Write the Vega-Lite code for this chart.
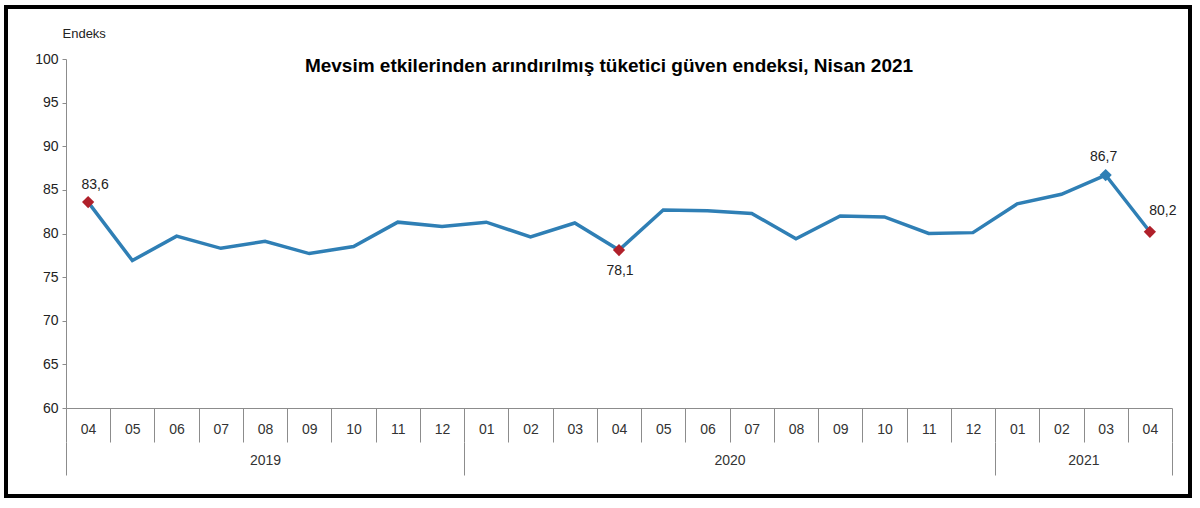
{
  "$schema": "https://vega.github.io/schema/vega-lite/v6.json",
  "width": 1184,
  "height": 489,
  "autosize": {"type": "none"},
  "padding": {"left": 6, "top": 7, "right": 10, "bottom": 12},
  "background": "white",
  "config": {
    "view": {"stroke": "#000000", "strokeWidth": 4},
    "locale": {"number": {"decimal": ",", "thousands": ".", "grouping": [3], "currency": ["", ""]}},
    "font": "Liberation Sans"
  },
  "title": {
    "text": "Mevsim etkilerinden arındırılmış tüketici güven endeksi, Nisan 2021",
    "font": "Liberation Sans",
    "fontSize": 19,
    "fontWeight": "bold",
    "color": "#000000",
    "anchor": "middle",
    "frame": "group",
    "baseline": "alphabetic",
    "offset": -84,
    "dx": 11
  },
  "data": {
    "values": [
      {"donem": "2019-04", "deger": 83.6},
      {"donem": "2019-05", "deger": 76.9},
      {"donem": "2019-06", "deger": 79.7},
      {"donem": "2019-07", "deger": 78.3},
      {"donem": "2019-08", "deger": 79.1},
      {"donem": "2019-09", "deger": 77.7},
      {"donem": "2019-10", "deger": 78.5},
      {"donem": "2019-11", "deger": 81.3},
      {"donem": "2019-12", "deger": 80.8},
      {"donem": "2020-01", "deger": 81.3},
      {"donem": "2020-02", "deger": 79.6},
      {"donem": "2020-03", "deger": 81.2},
      {"donem": "2020-04", "deger": 78.1},
      {"donem": "2020-05", "deger": 82.7},
      {"donem": "2020-06", "deger": 82.6},
      {"donem": "2020-07", "deger": 82.3},
      {"donem": "2020-08", "deger": 79.4},
      {"donem": "2020-09", "deger": 82.0},
      {"donem": "2020-10", "deger": 81.9},
      {"donem": "2020-11", "deger": 80.0},
      {"donem": "2020-12", "deger": 80.1},
      {"donem": "2021-01", "deger": 83.4},
      {"donem": "2021-02", "deger": 84.5},
      {"donem": "2021-03", "deger": 86.7},
      {"donem": "2021-04", "deger": 80.2}
    ]
  },
  "layer": [
    {
      "mark": {"type": "line", "color": "#2f7fb5", "strokeWidth": 3.5},
      "encoding": {
        "x": {
          "field": "donem", "type": "ordinal", "sort": null, "bandPosition": 0.5,
          "scale": {"type": "band", "range": [60, 1166], "paddingInner": 0, "paddingOuter": 0},
          "axis": {
            "orient": "bottom", "offset": -88, "title": null,
            "tickBand": "extent", "tickSize": 34, "tickColor": "#8c8c8c", "tickWidth": 1,
            "domainColor": "#8c8c8c", "domainWidth": 1,
            "labelExpr": "isValid(datum.value) ? substring(datum.value, 5) : ''", "labelAngle": 0, "labelFontSize": 14,
            "labelColor": "#333333", "labelPadding": -20, "labelBaseline": "top",
            "labelOverlap": false, "grid": false
          }
        },
        "y": {
          "field": "deger", "type": "quantitative",
          "scale": {"domain": [60, 100], "range": [401, 52], "nice": false, "zero": false},
          "axis": {
            "offset": -60, "values": [60, 65, 70, 75, 80, 85, 90, 95, 100],
            "tickSize": 4, "tickColor": "#8c8c8c", "domainColor": "#8c8c8c",
            "labelFontSize": 14, "labelColor": "#222222", "labelPadding": 4, "grid": false,
            "title": "Endeks", "titleAngle": 0, "titleAlign": "left", "titleBaseline": "alphabetic",
            "titleX": -4, "titleY": 30, "titleFontWeight": "normal", "titleFontSize": 13, "titleColor": "#222222"
          }
        }
      }
    },
    {
      "transform": [{"filter": "datum.donem == '2019-04' || datum.donem == '2020-04' || datum.donem == '2021-04'"}],
      "mark": {"type": "point", "shape": "diamond", "filled": true, "size": 150, "color": "#b0202a", "opacity": 1},
      "encoding": {
        "x": {
          "field": "donem", "type": "ordinal", "sort": null, "bandPosition": 0.5,
          "axis": {
            "orient": "bottom", "offset": -54, "title": null, "domain": false,
            "tickBand": "extent", "tickSize": 33, "tickColor": "#8c8c8c", "tickWidth": 1,
            "tickOpacity": {"condition": {"test": "!isValid(datum.value) || indexof(['2019-12','2020-12','2021-04'], datum.value) >= 0", "value": 1}, "value": 0},
            "labelExpr": "datum.value == '2019-08' ? '2019' : datum.value == '2020-06' ? '2020' : datum.value == '2021-02' ? '2021' : ''",
            "labelOffset": {"condition": {"test": "datum.value == '2019-08'", "value": 0}, "value": 22},
            "labelAngle": 0, "labelFontSize": 14, "labelColor": "#333333", "labelPadding": -22,
            "labelBaseline": "top", "labelOverlap": false, "grid": false
          }
        },
        "y": {"field": "deger", "type": "quantitative"}
      }
    },
    {
      "transform": [{"filter": "datum.donem == '2021-03'"}],
      "mark": {"type": "point", "shape": "diamond", "filled": true, "size": 150, "color": "#2f7fb5", "opacity": 1},
      "encoding": {
        "x": {"field": "donem", "type": "ordinal", "sort": null, "bandPosition": 0.5, "axis": null},
        "y": {"field": "deger", "type": "quantitative"}
      }
    },
    {
      "transform": [{"filter": "datum.donem == '2019-04'"}],
      "mark": {"type": "text", "fontSize": 14, "color": "#222222", "dx": 7, "dy": -17, "baseline": "middle"},
      "encoding": {
        "x": {"field": "donem", "type": "ordinal", "sort": null, "bandPosition": 0.5, "axis": null},
        "y": {"field": "deger", "type": "quantitative"},
        "text": {"field": "deger", "type": "quantitative", "format": ".1f"}
      }
    },
    {
      "transform": [{"filter": "datum.donem == '2020-04'"}],
      "mark": {"type": "text", "fontSize": 14, "color": "#222222", "dx": 1, "dy": 21, "baseline": "middle"},
      "encoding": {
        "x": {"field": "donem", "type": "ordinal", "sort": null, "bandPosition": 0.5, "axis": null},
        "y": {"field": "deger", "type": "quantitative"},
        "text": {"field": "deger", "type": "quantitative", "format": ".1f"}
      }
    },
    {
      "transform": [{"filter": "datum.donem == '2021-03'"}],
      "mark": {"type": "text", "fontSize": 14, "color": "#222222", "dx": -2, "dy": -18, "baseline": "middle"},
      "encoding": {
        "x": {"field": "donem", "type": "ordinal", "sort": null, "bandPosition": 0.5, "axis": null},
        "y": {"field": "deger", "type": "quantitative"},
        "text": {"field": "deger", "type": "quantitative", "format": ".1f"}
      }
    },
    {
      "transform": [{"filter": "datum.donem == '2021-04'"}],
      "mark": {"type": "text", "fontSize": 14, "color": "#222222", "dx": 13, "dy": -21, "baseline": "middle"},
      "encoding": {
        "x": {"field": "donem", "type": "ordinal", "sort": null, "bandPosition": 0.5, "axis": null},
        "y": {"field": "deger", "type": "quantitative"},
        "text": {"field": "deger", "type": "quantitative", "format": ".1f"}
      }
    }
  ],
  "resolve": {"axis": {"x": "independent"}}
}
